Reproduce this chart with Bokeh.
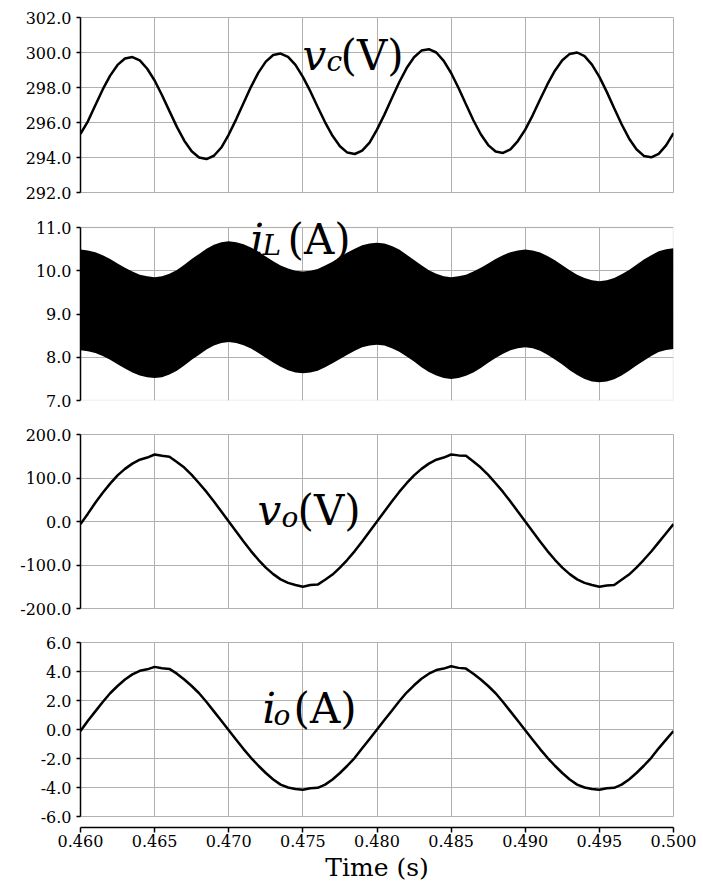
import numpy as np
from bokeh.plotting import figure
from bokeh.layouts import column
from bokeh.models import Range1d, FixedTicker, NumeralTickFormatter, Label, BoxAnnotation
from bokeh.embed import file_html
from bokeh.resources import INLINE

# ---------------- data ----------------
time_s = np.linspace(0.460, 0.500, 81)          # sample instants (0.5 ms grid)
x_ticks = [0.460, 0.465, 0.470, 0.475, 0.480, 0.485, 0.490, 0.495, 0.500]

vc_ticks = [292, 294, 296, 298, 300, 302]
il_ticks = [7, 8, 9, 10, 11]
vo_ticks = [-200, -100, 0, 100, 200]
io_ticks = [-6, -4, -2, 0, 2, 4, 6]

vc = [295.35, 296.07, 296.99, 297.89, 298.68, 299.29, 299.66, 299.74, 299.55, 299.07,
      298.40, 297.56, 296.65, 295.75, 294.96, 294.36, 294.00, 293.91, 294.10, 294.57,
      295.31, 296.18, 297.12, 298.04, 298.85, 299.48, 299.86, 299.94, 299.75, 299.29,
      298.61, 297.79, 296.89, 296.01, 295.24, 294.64, 294.28, 294.20, 294.39, 294.85,
      295.59, 296.45, 297.39, 298.30, 299.11, 299.73, 300.11, 300.19, 300.00, 299.52,
      298.83, 297.97, 297.04, 296.13, 295.33, 294.71, 294.34, 294.26, 294.46, 294.94,
      295.59, 296.41, 297.31, 298.19, 298.96, 299.56, 299.92, 300.00, 299.79, 299.31,
      298.61, 297.75, 296.81, 295.90, 295.09, 294.47, 294.09, 294.01, 294.21, 294.69,
      295.39]

il_upper = [10.49, 10.47, 10.43, 10.36, 10.27, 10.17, 10.07, 9.98, 9.91, 9.87, 9.85,
            9.87, 9.93, 10.02, 10.14, 10.27, 10.39, 10.51, 10.60, 10.66, 10.68,
            10.66, 10.61, 10.54, 10.44, 10.33, 10.22, 10.12, 10.05, 10.00, 9.98,
            10.00, 10.04, 10.12, 10.21, 10.32, 10.42, 10.51, 10.59, 10.63, 10.65,
            10.63, 10.57, 10.49, 10.37, 10.25, 10.13, 10.01, 9.93, 9.87, 9.85,
            9.87, 9.91, 9.98, 10.07, 10.17, 10.27, 10.36, 10.43, 10.47, 10.49,
            10.47, 10.42, 10.34, 10.24, 10.13, 10.01, 9.91, 9.83, 9.78, 9.76,
            9.78, 9.83, 9.92, 10.02, 10.14, 10.26, 10.36, 10.45, 10.50, 10.52]

il_lower = [8.16, 8.14, 8.10, 8.03, 7.94, 7.84, 7.74, 7.65, 7.58, 7.54, 7.52,
            7.54, 7.60, 7.69, 7.81, 7.94, 8.06, 8.18, 8.27, 8.33, 8.35,
            8.33, 8.28, 8.20, 8.10, 7.99, 7.88, 7.78, 7.70, 7.65, 7.63,
            7.65, 7.69, 7.77, 7.86, 7.96, 8.06, 8.15, 8.23, 8.27, 8.29,
            8.27, 8.21, 8.13, 8.02, 7.90, 7.77, 7.66, 7.58, 7.52, 7.50,
            7.52, 7.57, 7.65, 7.75, 7.87, 7.98, 8.08, 8.16, 8.21, 8.23,
            8.21, 8.15, 8.06, 7.95, 7.83, 7.70, 7.59, 7.50, 7.44, 7.42,
            7.44, 7.49, 7.58, 7.69, 7.81, 7.92, 8.03, 8.12, 8.17, 8.19]

vo = [-6, 18, 43, 66, 87, 106, 121, 133, 142, 147,
      154, 151, 149, 137, 124, 107, 88, 68, 46, 23,
      0, -23, -46, -68, -88, -106, -121, -133, -141, -146,
      -150, -146, -145, -134, -122, -106, -88, -68, -46, -23,
      0, 23, 46, 68, 88, 106, 121, 133, 142, 147,
      154, 152, 151, 138, 124, 107, 88, 68, 46, 23,
      0, -23, -46, -68, -88, -106, -121, -133, -141, -146,
      -150, -147, -146, -134, -122, -106, -88, -69, -48, -27,
      -6]

io = [-0.10, 0.60, 1.25, 1.90, 2.50, 3.00, 3.45, 3.80, 4.05, 4.15,
      4.32, 4.22, 4.18, 3.85, 3.45, 3.00, 2.50, 1.90, 1.25, 0.60,
      -0.05, -0.70, -1.35, -1.95, -2.50, -3.00, -3.45, -3.80, -4.00, -4.10,
      -4.16, -4.05, -4.02, -3.80, -3.45, -3.00, -2.50, -1.95, -1.30, -0.65,
      0.00, 0.65, 1.30, 1.95, 2.55, 3.05, 3.50, 3.85, 4.10, 4.20,
      4.36, 4.25, 4.20, 3.85, 3.45, 3.00, 2.50, 1.90, 1.25, 0.60,
      -0.05, -0.70, -1.35, -1.95, -2.50, -3.00, -3.45, -3.80, -4.00, -4.10,
      -4.16, -4.05, -4.02, -3.80, -3.45, -3.00, -2.50, -1.95, -1.30, -0.70,
      -0.10]

# ---------------- styling / layout ----------------
FONT = "DejaVu Serif"
GRID = "#b3b0ac"
FRAME_W = 593
LEFT = 80
RIGHT = 30
PAGE_FRAME_LEFT = 80  # page px of frame left edge

xr = Range1d(0.460, 0.500)


def make_panel(yr, ticks, frame_h, top, bottom):
    p = figure(x_range=xr, y_range=Range1d(*yr), frame_width=FRAME_W, frame_height=frame_h,
               min_border_left=LEFT, min_border_right=RIGHT,
               min_border_top=top, min_border_bottom=bottom,
               x_axis_location=None, toolbar_location=None, tools="",
               output_backend="svg", background_fill_color="white",
               border_fill_color="white")
    p.outline_line_color = GRID
    p.outline_line_width = 1
    p.xgrid.ticker = FixedTicker(ticks=x_ticks)
    p.ygrid.ticker = FixedTicker(ticks=ticks)
    for g in (p.xgrid, p.ygrid):
        g.grid_line_color = GRID
        g.grid_line_width = 1
    ax = p.yaxis[0]
    ax.ticker = FixedTicker(ticks=ticks)
    ax.formatter = NumeralTickFormatter(format="0.0")
    ax.axis_line_color = "black"
    ax.axis_line_width = 1.5
    ax.major_tick_line_color = "black"
    ax.major_tick_line_width = 1.5
    ax.major_tick_in = 0
    ax.major_tick_out = 4
    ax.minor_tick_in = 0
    ax.minor_tick_out = 0
    ax.major_label_standoff = 5
    ax.major_label_text_font = FONT
    ax.major_label_text_font_size = "16px"
    ax.major_label_text_color = "black"
    return p


def add_title(p, frame_top, frame_h, yr, main, sub, unit, px_main, px_sub, px_unit, base, sub_drop):
    def tx(px):
        return xr.start + (px - PAGE_FRAME_LEFT) / FRAME_W * (xr.end - xr.start)

    def ty(py):
        return yr[1] - (py - frame_top) / frame_h * (yr[1] - yr[0])

    common = dict(x_units="data", y_units="data", text_font=FONT, text_color="black",
                  text_baseline="alphabetic", text_align="left", level="overlay")
    p.add_layout(Label(x=tx(px_main), y=ty(base), text=main, text_font_size="42px",
                       text_font_style="italic", **common))
    p.add_layout(Label(x=tx(px_sub), y=ty(base + sub_drop), text=sub, text_font_size="28px",
                       text_font_style="italic", **common))
    p.add_layout(Label(x=tx(px_unit), y=ty(base), text=unit, text_font_size="42px",
                       text_font_style="normal", **common))


LW = 2.5

# panel 1: v_c   (page y 0..202, frame 17..192)
yr1 = (292, 302)
p1 = make_panel(yr1, vc_ticks, 175, 17, 10)
p1.line(time_s, vc, line_color="black", line_width=LW)
add_title(p1, 17, 175, yr1, "v", "c", "(V)", 302, 326, 340, 55, 6)

# panel 2: i_L   (page y 202..417; data frame 227..400, extra head-room for the title)
P2_TOP, P2_DATA_TOP, P2_BOTTOM = 202, 227, 400
il_span = il_ticks[-1] - il_ticks[0]
yr2 = (il_ticks[0], il_ticks[-1] + il_span * (P2_DATA_TOP - P2_TOP) / (P2_BOTTOM - P2_DATA_TOP))
p2 = make_panel(yr2, il_ticks, P2_BOTTOM - P2_TOP, 0, 17)
p2.outline_line_color = None
p2.yaxis[0].bounds = (il_ticks[0], il_ticks[-1])
p2.xgrid.cross_bounds = (il_ticks[0], il_ticks[-1])
p2.add_layout(BoxAnnotation(left=xr.start, right=xr.end, bottom=il_ticks[0], top=il_ticks[-1],
                            fill_color=None, line_color=GRID, line_width=1.5, level="underlay"))
p2.varea(x=time_s, y1=il_lower, y2=il_upper, fill_color="black", fill_alpha=1)
add_title(p2, P2_TOP, P2_BOTTOM - P2_TOP, yr2, "i", "L", "(A)", 250, 262, 287, 239, 6)

# panel 3: v_o   (page y 417..625, frame 434..608)
yr3 = (-200, 200)
p3 = make_panel(yr3, vo_ticks, 174, 17, 17)
p3.line(time_s, vo, line_color="black", line_width=LW)
add_title(p3, 434, 174, yr3, "v", "o", "(V)", 257, 281, 297, 510, 7)

# panel 4: i_o   (page y 625..826, frame 642..816)
yr4 = (-6, 6)
p4 = make_panel(yr4, io_ticks, 174, 17, 10)
p4.line(time_s, io, line_color="black", line_width=LW)
add_title(p4, 642, 174, yr4, "i", "o", "(A)", 262, 273, 293, 708, 7)

# panel 5: detached time axis (page y 826..885, axis line at 827)
p5 = figure(x_range=xr, y_range=Range1d(0, 1), frame_width=FRAME_W, frame_height=1,
            min_border_left=LEFT, min_border_right=RIGHT, min_border_top=0,
            min_border_bottom=58, y_axis_location=None, toolbar_location=None, tools="",
            output_backend="svg", background_fill_color="white", border_fill_color="white")
p5.outline_line_color = None
p5.xgrid.visible = False
p5.ygrid.visible = False
xa = p5.xaxis[0]
xa.ticker = FixedTicker(ticks=x_ticks)
xa.formatter = NumeralTickFormatter(format="0.000")
xa.axis_line_color = "black"
xa.axis_line_width = 1.5
xa.major_tick_line_color = "black"
xa.major_tick_line_width = 1.5
xa.major_tick_in = 0
xa.major_tick_out = 5
xa.minor_tick_in = 0
xa.minor_tick_out = 0
xa.major_label_standoff = 2
xa.major_label_text_font = FONT
xa.major_label_text_font_size = "16px"
xa.major_label_text_color = "black"
xa.axis_label = "Time (s)"
xa.axis_label_standoff = 3
xa.axis_label_text_font = FONT
xa.axis_label_text_font_size = "25px"
xa.axis_label_text_font_style = "normal"
xa.axis_label_text_color = "black"

layout = column(p1, p2, p3, p4, p5, spacing=0)

open("out.html", "w").write(file_html(layout, INLINE))
